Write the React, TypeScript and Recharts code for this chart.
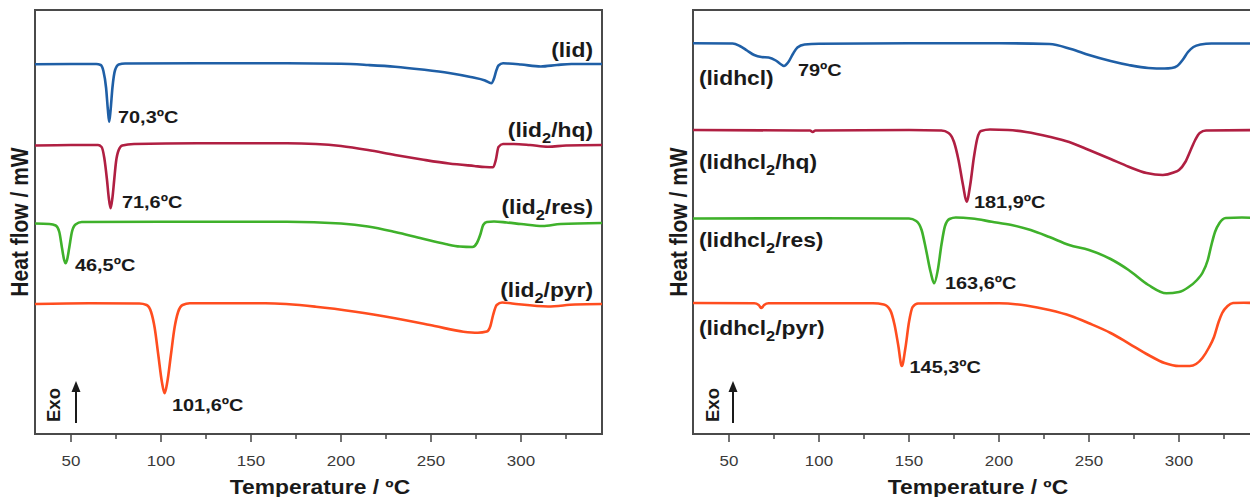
import React from 'react';
import { LineChart, Line, XAxis, YAxis, ReferenceDot, ReferenceArea } from 'recharts';

type Pt = [number, number];

// temperature (°C) vs heat flow (arbitrary offset units, exo up)
const lid: Pt[] = [
  [30, 36.97], [50, 37.0], [64, 37.0], [66.5, 36.9], [68, 36.3], [69.5, 34.6], [70.5, 32.4], [71.2, 31.23],
  [72, 32.4], [73, 34.6], [74.5, 36.4], [76.5, 36.95], [80, 37.05], [120, 37.07], [170, 37.07], [200, 37.02],
  [215, 36.9], [230, 36.73], [245, 36.45], [260, 36.1], [272, 35.7], [280, 35.35], [283.5, 35.07], [285, 35.55],
  [286.2, 36.3], [287.5, 36.85], [290, 37.07], [293, 37.05], [300, 36.95], [311, 36.75], [320, 36.9], [328, 37.0], [345, 37.0],
];
const lidHq: Pt[] = [
  [30, 28.85], [50, 28.9], [65, 28.9], [67, 28.7], [68.5, 27.6], [70, 25.4], [71, 23.6], [72, 22.57], [73, 23.6],
  [74, 25.4], [75, 27.2], [76.5, 28.4], [78.5, 28.85], [85, 29.0], [120, 29.07], [170, 29.07], [186, 29.0],
  [200, 28.8], [215, 28.4], [230, 27.9], [245, 27.45], [260, 27.05], [274, 26.8], [280, 26.7], [284.5, 26.67],
  [286, 27.4], [287.5, 28.7], [290, 29.0], [296, 29.0], [305, 28.9], [315, 28.73], [325, 28.85], [345, 28.9],
];
const lidRes: Pt[] = [
  [30, 21.05], [38, 21.0], [41.5, 20.85], [43.5, 20.2], [45, 18.6], [46.2, 17.4], [47, 17.07], [47.8, 17.4],
  [49, 18.6], [50.5, 20.2], [52.5, 20.95], [56, 21.2], [100, 21.23], [170, 21.23], [200, 21.05], [215, 20.75],
  [230, 20.2], [245, 19.55], [258, 19.0], [266, 18.75], [273, 18.7], [275.5, 19.1], [277.5, 20.0], [279, 20.9],
  [281, 21.2], [285, 21.25], [292, 21.15], [300, 21.0], [312, 20.8], [322, 21.0], [345, 21.1],
];
const lidPyr: Pt[] = [
  [30, 13.0], [60, 13.07], [88, 13.05], [92, 12.9], [94.5, 12.2], [96.5, 10.6], [98.5, 7.9], [100.5, 5.2],
  [102, 4.07], [103.5, 5.2], [105.5, 7.9], [107.5, 10.6], [109.5, 12.2], [112, 12.9], [116, 13.07], [158, 13.07],
  [186, 12.73], [208, 12.23], [230, 11.57], [252, 10.8], [268, 10.23], [276, 10.13], [281, 10.25], [283, 10.8],
  [284.5, 11.9], [286.5, 12.9], [289.5, 13.15], [295, 13.05], [315, 12.75], [330, 12.95], [345, 13.0],
];

const lidhcl: Pt[] = [
  [30, 39.07], [52, 39.05], [56, 38.8], [60, 38.35], [64, 37.9], [68, 37.7], [72, 37.65], [76, 37.35], [79, 36.95],
  [80.5, 36.8], [83, 37.2], [85.5, 38.0], [88, 38.65], [92, 38.95], [100, 39.03], [150, 39.07], [200, 39.07],
  [228, 39.0], [240, 38.5], [250, 37.9], [262, 37.3], [272, 36.9], [283, 36.6], [292, 36.55], [296, 36.6],
  [299, 36.8], [302, 37.4], [305, 38.2], [308, 38.7], [312, 38.95], [318, 39.05], [345, 39.05],
];
const lidhclHq: Pt[] = [
  [30, 30.4], [90, 30.35], [95, 30.35], [96.5, 30.2], [98, 30.35], [150, 30.4], [168, 30.35], [172, 30.1],
  [175, 29.2], [177.5, 27.4], [180, 24.9], [182, 23.23], [184, 24.9], [186, 27.6], [188, 29.6], [190, 30.3],
  [195, 30.45], [205, 30.4], [215, 30.2], [228, 29.73], [239, 29.2], [250, 28.4], [262, 27.5], [272, 26.73],
  [282, 26.1], [291, 25.9], [297, 26.15], [300, 26.4], [303.5, 27.2], [306.5, 28.4], [309, 29.4], [311.5, 30.1],
  [315, 30.35], [345, 30.4],
];
const lidhclRes: Pt[] = [
  [30, 21.55], [100, 21.57], [150, 21.55], [154, 21.3], [157, 20.4], [159.5, 18.4], [162, 16.2], [164, 15.07],
  [166, 16.4], [168, 18.9], [170, 20.8], [172.5, 21.5], [176, 21.65], [185, 21.55], [196, 21.23], [207, 20.9],
  [217.6, 20.4], [228, 19.7], [239, 18.9], [250, 18.4], [262, 17.5], [272, 16.4], [283, 14.9], [293, 14.07],
  [300, 14.2], [305, 14.65], [310, 15.4], [313, 16.1], [316, 17.4], [318, 18.9], [320, 20.2], [322.5, 21.1],
  [326, 21.6], [335, 21.65], [345, 21.57],
];
const lidhclPyr: Pt[] = [
  [30, 13.1], [64, 13.07], [66.5, 12.9], [68, 12.6], [69.5, 12.9], [72, 13.07], [130, 13.07], [136, 12.95],
  [139.5, 12.4], [142, 10.9], [144, 8.9], [146, 6.8], [148, 8.6], [150, 11.2], [152, 12.7], [155, 13.05],
  [200, 13.07], [215, 12.85], [228, 12.4], [240, 11.8], [250, 11.07], [262, 10.1], [272, 9.07], [283, 7.9],
  [292, 7.1], [300, 6.8], [306, 6.8], [313, 7.6], [316.5, 8.6], [319.5, 9.73], [322, 11.2], [324, 12.1],
  [327, 12.8], [330, 13.1], [336, 13.13], [345, 13.05],
];

// "_2" marks a subscript
const leftNames = ['(lid)', '(lid_2/hq)', '(lid_2/res)', '(lid_2/pyr)'];
const leftNameAt: Pt[] = [[340, 38.4], [340, 30.4], [340, 22.7], [340, 14.4]];
const rightNames = ['(lidhcl)', '(lidhcl_2/hq)', '(lidhcl_2/res)', '(lidhcl_2/pyr)'];
const rightNameAt: Pt[] = [[33.3, 35.6], [33.3, 27.2], [33.3, 19.4], [33.3, 10.6]];

const leftPeaks = ['70,3ºC', '71,6ºC', '46,5ºC', '101,6ºC'];
const leftPeakAt: Pt[] = [[76.1, 31.73], [78.3, 23.23], [52.2, 16.9], [106.1, 2.9]];
const rightPeaks = ['79ºC', '181,9ºC', '163,6ºC', '145,3ºC'];
const rightPeakAt: Pt[] = [[88.3, 36.4], [186.1, 23.23], [170, 15.1], [150.3, 6.73]];

const tempTicks = [50, 75, 100, 125, 150, 175, 200, 225, 250, 275, 300, 325];
const colors = ['#1f5fa6', '#b01f42', '#3fb12b', '#ff4d1f'];

const FONT = '"Liberation Sans", Arial, Helvetica, sans-serif';
const X_DOMAIN: [number, number] = [30, 345];
const Y_DOMAIN: [number, number] = [0, 42.4];
// the source figure is a little wider than tall, text too
const SX = 1.17;

const toRows = (pts: Pt[]) => pts.map(([t, v]) => ({ t, v }));

const TempTick = (props: any) => {
  const { x, y, payload } = props;
  const major = payload.value % 50 === 0;
  return (
    <g>
      <line x1={x} x2={x} y1={y} y2={y + (major ? 8 : 5)} stroke="#444" strokeWidth={1.5} />
      {major && (
        <text
          transform={`translate(${x} ${y + 31.5}) scale(1.13 1)`}
          textAnchor="middle"
          fontFamily={FONT}
          fontSize={15}
          fill="#3a3a3a"
        >
          {payload.value}
        </text>
      )}
    </g>
  );
};

const Caption = (props: any) => {
  const vb = props.viewBox || { x: props.x, y: props.y };
  const { text, anchor, size } = props;
  const parts: string[] = text.split(/_(\d)/);
  const sh = Math.round(size * 0.3);
  return (
    <text
      transform={`translate(${vb.x} ${vb.y + size * 0.35}) scale(${SX} 1)`}
      textAnchor={anchor}
      fontFamily={FONT}
      fontWeight="bold"
      fontSize={size}
      fill="#1a1a1a"
    >
      {parts.map((p, i) =>
        i % 2 ? (
          <tspan key={i} dy={sh} fontSize={size * 0.72}>{p}</tspan>
        ) : (
          <tspan key={i} dy={i ? -sh : 0}>{p}</tspan>
        )
      )}
    </text>
  );
};

function Panel({ series, names, nameAt, nameAnchor, peaks, peakAt, left, width, marginLeft }: any) {
  return (
    <div style={{ position: 'absolute', left, top: 0 }}>
      <LineChart
        width={width}
        height={497}
        margin={{ top: 10, left: marginLeft, right: width - marginLeft - 567, bottom: 33 }}
        style={{ fontFamily: FONT }}
      >
        <XAxis
          type="number"
          dataKey="t"
          domain={X_DOMAIN}
          ticks={tempTicks}
          interval={0}
          allowDataOverflow
          axisLine={false}
          tickLine={false}
          tickSize={0}
          tickMargin={0}
          height={30}
          tick={<TempTick />}
        />
        <YAxis hide type="number" domain={Y_DOMAIN} allowDataOverflow />
        <ReferenceArea
          x1={X_DOMAIN[0]}
          x2={X_DOMAIN[1]}
          y1={Y_DOMAIN[0]}
          y2={Y_DOMAIN[1]}
          fill="none"
          fillOpacity={0}
          stroke="#4a4a4a"
          strokeWidth={2}
          ifOverflow="visible"
        />
        {series.map((s: Pt[], i: number) => (
          <Line
            key={i}
            data={toRows(s)}
            dataKey="v"
            type="monotone"
            stroke={colors[i]}
            strokeWidth={2.6}
            dot={false}
            activeDot={false}
            isAnimationActive={false}
          />
        ))}
        {names.map((n: string, i: number) => (
          <ReferenceDot
            key={'n' + i}
            x={nameAt[i][0]}
            y={nameAt[i][1]}
            r={0}
            fill="none"
            stroke="none"
            ifOverflow="visible"
            label={<Caption text={n} anchor={nameAnchor} size={19.5} />}
          />
        ))}
        {peaks.map((p: string, i: number) => (
          <ReferenceDot
            key={'p' + i}
            x={peakAt[i][0]}
            y={peakAt[i][1]}
            r={0}
            fill="none"
            stroke="none"
            ifOverflow="visible"
            label={<Caption text={p} anchor="start" size={17} />}
          />
        ))}
      </LineChart>
    </div>
  );
}

function Decor({ yLabelX, exoX, arrowX, titleX }: any) {
  return (
    <g fontFamily={FONT} fontWeight="bold" fill="#1a1a1a">
      <text
        transform={`translate(${yLabelX} 222) scale(${SX} 1) rotate(-90)`}
        textAnchor="middle"
        dy={7}
        fontSize={21}
      >
        Heat flow / mW
      </text>
      <text transform={`translate(${titleX} 494) scale(${SX} 1)`} textAnchor="middle" fontSize={19.5}>
        Temperature / ºC
      </text>
      <text transform={`translate(${exoX} 405) rotate(-90)`} textAnchor="middle" dy={6.5} fontSize={18.5}>
        Exo
      </text>
      <line x1={arrowX} x2={arrowX} y1={423} y2={390} stroke="#1a1a1a" strokeWidth={2} />
      <polygon points={`${arrowX - 4.5},392 ${arrowX + 4.5},392 ${arrowX},381`} fill="#1a1a1a" />
    </g>
  );
}

export default function App() {
  return (
    <div style={{ position: 'absolute', left: 0, top: 0, width: 1250, height: 497, overflow: 'hidden', background: '#fff' }}>
      <Panel
        series={[lid, lidHq, lidRes, lidPyr]}
        names={leftNames}
        nameAt={leftNameAt}
        nameAnchor="end"
        peaks={leftPeaks}
        peakAt={leftPeakAt}
        left={0}
        width={620}
        marginLeft={35}
      />
      <Panel
        series={[lidhcl, lidhclHq, lidhclRes, lidhclPyr]}
        names={rightNames}
        nameAt={rightNameAt}
        nameAnchor="start"
        peaks={rightPeaks}
        peakAt={rightPeakAt}
        left={640}
        width={640}
        marginLeft={53}
      />
      <svg width={1250} height={497} style={{ position: 'absolute', left: 0, top: 0, pointerEvents: 'none' }}>
        <Decor yLabelX={20} exoX={53} arrowX={76} titleX={320} />
        <Decor yLabelX={679} exoX={712} arrowX={733} titleX={978} />
      </svg>
    </div>
  );
}
